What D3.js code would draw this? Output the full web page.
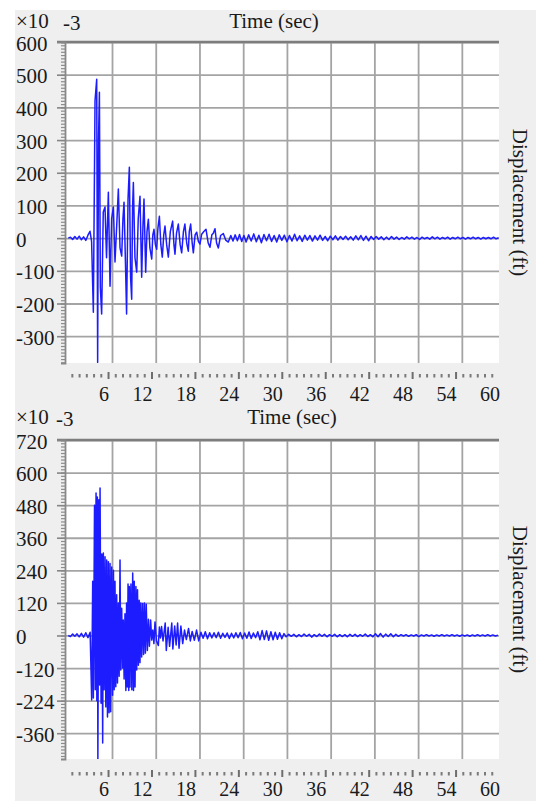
<!DOCTYPE html>
<html>
<head>
<meta charset="utf-8">
<script src="https://cdn.jsdelivr.net/npm/d3@7/dist/d3.min.js"></script>
<style>
  body { margin: 0; background: #fff; }
  svg text { font-family: "Liberation Serif", "Times New Roman", serif; fill: #1a1a1a; }
</style>
</head>
<body>
<svg id="chart" width="536" height="801" font-family="Liberation Serif, serif"></svg>
<script>
// ---- data ----
const xTickValues = [6, 12, 18, 24, 30, 36, 42, 48, 54, 60];

const topYTicks = [600, 500, 400, 300, 200, 100, 0, -100, -200, -300];
const topYLabels = ["600", "500", "400", "300", "200", "100", "0", "-100", "-200", "-300"];

const bottomYTicks = [720, 600, 480, 360, 240, 120, 0, -120, -240, -360];
const bottomYLabels = ["720", "600", "480", "360", "240", "120", "0", "-120", "-224", "-360"];

// [time (s), displacement (x10^-3 ft)]
const topTrace = [
  [0,0],[0.3,3],[0.6,-4],[0.9,5],[1.2,-3],[1.5,6],[1.8,-5],[2.1,4],[2.4,-7],[2.7,9],
  [2.98,21],[3.2,-10],[3.44,-227],[3.67,420],[3.9,486],[4.03,-380],[4.15,300],[4.27,446],[4.4,-150],[4.58,-232],
  [4.8,80],[5.04,95],[5.25,-60],[5.5,140],[5.73,-147],[5.95,60],[6.19,95],[6.41,-73],[6.65,40],[6.87,150],
  [7.1,-30],[7.33,-55],[7.5,60],[7.65,110],[7.85,-80],[8.0,-232],[8.2,120],[8.38,217],[8.55,-120],[8.7,-187],
  [8.82,90],[8.93,170],[9.15,-60],[9.39,-104],[9.6,60],[9.84,128],[10.07,-120],[10.25,40],[10.39,120],[10.62,-104],
  [10.8,20],[10.99,58],[11.2,-30],[11.45,-64],[11.6,10],[11.76,27],[11.95,-20],[12.13,-34],[12.3,30],[12.5,67],
  [12.7,-20],[12.9,-58],[13.1,10],[13.27,37],[13.5,-20],[13.73,-58],[14.0,20],[14.32,52],[14.5,-20],[14.64,-49],
  [14.85,15],[15.1,43],[15.35,-20],[15.56,-45],[15.8,20],[16.0,43],[16.25,-15],[16.47,-40],[16.6,20],[16.79,43],
  [17.0,-15],[17.16,-45],[17.4,10],[17.62,18],[17.85,-10],[18.07,-18],[18.3,12],[18.6,20],[18.9,27],[19.2,-15],
  [19.44,-28],[19.7,10],[19.9,15],[20.13,29],[20.35,-15],[20.59,-30],[20.9,8],[21.27,14],[21.6,-6],[21.96,-12],
  [22.3,8],[22.6,-9],[22.9,10],[23.2,-8],[23.5,11],[23.8,-10],[24.1,8],[24.4,-12],[24.75,10],[25.1,-9],
  [25.45,13],[25.8,-11],[26.15,9],[26.5,-14],[26.85,11],[27.2,-8],[27.55,12],[27.9,-10],[28.25,8],[28.6,-12],
  [28.95,10],[29.3,-7],[29.65,9],[30.0,-11],[30.35,8],[30.7,-9],[31.05,12],[31.4,-8],[31.75,7],[32.1,-10],
  [32.45,9],[32.8,-6],[33.15,8],[33.5,-9],[33.85,7],[34.2,-6],[34.55,9],[34.9,-7],[35.25,5],[35.6,-8],
  [35.95,6],[36.3,-5],[36.65,7],[37.0,-6],[37.35,5],[37.7,-4],[38.05,6],[38.4,-5],[38.75,4],[39.1,-6],
  [39.45,7],[39.8,-5],[40.15,8],[40.5,-7],[40.85,6],[41.2,-8],[41.55,5],[41.9,-4],[42.25,5],[42.6,-3],
  [42.95,4],[43.3,-5],[43.65,3],[44.0,-4],[44.35,5],[44.7,-3],[45.05,3],[45.4,-4],[45.75,2],[46.1,-3],
  [46.45,4],[46.8,-2],[47.15,3],[47.5,-3],[47.85,2],[48.2,-4],[48.55,3],[48.9,-2],[49.25,2],[49.6,-3],
  [49.95,4],[50.3,-2],[50.65,3],[51.0,-3],[51.35,2],[51.7,-2],[52.05,3],[52.4,-3],[52.75,2],[53.1,-2],
  [53.45,3],[53.8,-2],[54.15,2],[54.5,-3],[54.85,2],[55.2,-2],[55.55,3],[55.9,-2],[56.25,2],[56.6,-3],
  [56.95,2],[57.3,-2],[57.65,2],[58.0,-2],[58.35,3],[58.7,-2],[59.05,1]
];

const bottomTrace = [
  [0,0],[0.3,-4],[0.6,5],[0.9,-3],[1.2,6],[1.5,-5],[1.8,8],[2.1,-6],[2.4,10],[2.7,-8],
  [3.0,12],[3.21,-238],[3.35,200],[3.44,-230],[3.6,480],[3.7,-200],[3.81,525],[3.92,-240],[3.99,510],[4.06,-460],
  [4.2,500],[4.3,-182],[4.36,543],[4.5,-250],[4.6,300],[4.72,-396],[4.81,304],[4.92,-200],[5.04,290],[5.15,-263],
  [5.27,278],[5.38,-300],[5.5,272],[5.6,-285],[5.73,265],[5.82,-281],[5.96,252],[6.08,-220],[6.2,240],[6.3,-200],
  [6.41,200],[6.52,-189],[6.64,150],[6.75,-175],[6.87,120],[6.98,-150],[7.1,278],[7.2,-127],[7.33,100],[7.45,-120],
  [7.55,57],[7.66,-160],[7.78,80],[7.9,-203],[8.0,120],[8.1,-190],[8.2,190],[8.3,-203],[8.38,180],[8.47,-190],
  [8.6,190],[8.72,-200],[8.84,230],[8.95,-203],[9.05,200],[9.16,-190],[9.28,180],[9.39,-127],[9.5,168],[9.62,-110],
  [9.73,130],[9.84,-100],[9.95,120],[10.07,-79],[10.2,118],[10.33,-70],[10.45,120],[10.58,-65],[10.7,115],[10.85,-55],
  [11.0,60],[11.13,-40],[11.3,57],[11.45,-17],[11.6,20],[11.75,-30],[11.9,50],[12.1,-20],[12.36,-37],[12.5,31],
  [12.65,-9],[12.8,33],[13.0,-20],[13.3,46],[13.45,-55],[13.7,30],[13.9,-40],[14.2,46],[14.35,-50],[14.6,35],
  [14.8,-35],[15.0,46],[15.2,-47],[15.45,35],[15.7,-30],[15.95,20],[16.2,-15],[16.5,26],[16.75,-20],[17.0,15],
  [17.3,-18],[17.6,20],[17.9,-20],[18.2,12],[18.5,-10],[18.8,14],[19.1,-12],[19.4,10],[19.7,-9],[20.0,10],
  [20.3,-8],[20.6,12],[20.9,-10],[21.2,8],[21.5,-7],[21.8,9],[22.1,-11],[22.4,8],[22.7,-9],[23.0,10],
  [23.3,-8],[23.6,11],[23.9,-12],[24.2,9],[24.5,-10],[24.8,13],[25.1,-11],[25.4,9],[25.7,-8],[26.0,14],
  [26.3,-16],[26.6,18],[26.9,-15],[27.2,17],[27.5,-18],[27.8,14],[28.1,-16],[28.4,12],[28.7,-14],[29.0,10],
  [29.3,-12],[29.6,7],[29.9,-5],[30.25,4],[30.6,-3],[30.95,4],[31.3,-5],[31.65,3],[32.0,-4],[32.35,5],
  [32.7,-3],[33.05,4],[33.4,-6],[33.75,3],[34.1,-4],[34.45,5],[34.8,-3],[35.15,4],[35.5,-5],[35.85,3],
  [36.2,-3],[36.55,4],[36.9,-5],[37.25,3],[37.6,-4],[37.95,3],[38.3,-5],[38.65,4],[39.0,-3],[39.35,4],
  [39.7,-4],[40.05,3],[40.4,-3],[40.75,5],[41.1,-4],[41.45,3],[41.8,-5],[42.15,6],[42.5,-5],[42.85,7],
  [43.2,-6],[43.55,5],[43.9,-4],[44.25,6],[44.6,-5],[44.95,4],[45.3,-3],[45.65,3],[46.0,-2],[46.35,3],
  [46.7,-3],[47.05,2],[47.4,-2],[47.75,3],[48.1,-4],[48.45,2],[48.8,-2],[49.15,3],[49.5,-2],[49.85,2],
  [50.2,-3],[50.55,2],[50.9,-2],[51.25,3],[51.6,-2],[51.95,2],[52.3,-2],[52.65,3],[53.0,-2],[53.35,2],
  [53.7,-3],[54.05,2],[54.4,-2],[54.75,2],[55.1,-3],[55.45,2],[55.8,-2],[56.15,3],[56.5,-2],[56.85,2],
  [57.2,-2],[57.55,3],[57.9,-2],[58.25,2],[58.6,-2],[58.95,1]
];

// ---- layout ----
const LEFT = 65, RIGHT = 499;
const svg = d3.select("#chart");

svg.append("rect")
  .attr("x", 15).attr("y", 10)
  .attr("width", 521).attr("height", 791)
  .attr("fill", "#efefef");

// plot time scale and the (slightly different) scale of the tick strip below
const x = d3.scaleLinear().domain([-0.45, 59.1]).range([LEFT, RIGHT]);
const xb = d3.scaleLinear().domain([0, 60]).range([64.6, 499]);

function drawPanel(p) {
  const y = d3.scaleLinear().domain(p.yDomain).range([p.bottom, p.top]);
  const g = svg.append("g");

  // white plot area
  g.append("rect")
    .attr("x", LEFT).attr("y", p.top)
    .attr("width", RIGHT - LEFT).attr("height", p.bottom - p.top)
    .attr("fill", "#fff");

  // horizontal grid
  g.append("g")
    .attr("transform", `translate(${LEFT},0)`)
    .call(d3.axisLeft(y).tickValues(p.yTicks).tickSize(-(RIGHT - LEFT)).tickFormat(""))
    .call(s => s.select(".domain").remove())
    .selectAll("line").attr("stroke", "#a4a4a4").attr("stroke-width", 1.8);

  // vertical grid
  g.append("g")
    .attr("transform", `translate(0,${p.bottom})`)
    .call(d3.axisBottom(x).tickValues(xTickValues.filter(v => v < 59)).tickSize(-(p.bottom - p.top)).tickFormat(""))
    .call(s => s.select(".domain").remove())
    .selectAll("line").attr("stroke", "#a4a4a4").attr("stroke-width", 1.8);

  // trace
  g.append("clipPath").attr("id", p.id)
    .append("rect")
    .attr("x", LEFT).attr("y", p.top)
    .attr("width", RIGHT - LEFT).attr("height", p.bottom - p.top);

  g.append("path")
    .datum(p.trace)
    .attr("clip-path", `url(#${p.id})`)
    .attr("fill", "none")
    .attr("stroke", "#1c1cff")
    .attr("stroke-width", 1.5)
    .attr("stroke-linejoin", "round")
    .attr("d", d3.line().x(d => x(d[0])).y(d => y(d[1])));

  // top border
  g.append("line")
    .attr("x1", LEFT - 8).attr("x2", RIGHT)
    .attr("y1", p.top).attr("y2", p.top)
    .attr("stroke", "#7d7d7d").attr("stroke-width", 2.6);

  // left ruler axis: minor then major ticks
  const minorVals = d3.range(Math.ceil(p.yDomain[0] / p.minor) * p.minor, p.yDomain[1] + 1, p.minor);
  g.append("g")
    .attr("transform", `translate(${LEFT},0)`)
    .call(d3.axisLeft(y).tickValues(minorVals).tickSize(4).tickFormat(""))
    .call(s => s.select(".domain").attr("stroke", "#888").attr("stroke-width", 1.8))
    .selectAll("line").attr("stroke", "#8c8c8c").attr("stroke-width", 1.2);

  g.append("g")
    .attr("transform", `translate(${LEFT},0)`)
    .call(d3.axisLeft(y).tickValues(p.yTicks).tickSize(8).tickFormat(""))
    .call(s => s.select(".domain").remove())
    .selectAll("line").attr("stroke", "#858585").attr("stroke-width", 1.6);

  // y labels, left aligned
  g.selectAll(".ylab")
    .data(p.yTicks)
    .join("text")
    .attr("class", "ylab")
    .attr("x", 16)
    .attr("y", d => y(d) + 1.5)
    .attr("dominant-baseline", "central")
    .attr("font-size", 21)
    .text((d, i) => p.yLabels[i]);

  // tick strip under the plot
  g.append("g")
    .attr("transform", `translate(0,${p.band + 2})`)
    .call(d3.axisBottom(xb).tickValues(d3.range(1, 60).filter(v => v % 6 !== 0)).tickSize(3.5).tickFormat(""))
    .call(s => s.select(".domain").remove())
    .selectAll("line").attr("stroke", "#7a7a7a").attr("stroke-width", 2);

  g.append("g")
    .attr("transform", `translate(0,${p.band})`)
    .call(d3.axisBottom(xb).tickValues(xTickValues.filter(v => v < 60)).tickSize(7).tickFormat(""))
    .call(s => s.select(".domain").remove())
    .selectAll("line").attr("stroke", "#6e6e6e").attr("stroke-width", 2);

  g.selectAll(".xlab")
    .data(xTickValues)
    .join("text")
    .attr("class", "xlab")
    .attr("x", d => xb(d) + 1)
    .attr("y", p.labelBase)
    .attr("text-anchor", "end")
    .attr("font-size", p.labelSize)
    .text(d => d);

  // exponent note
  g.append("text").attr("x", 16).attr("y", p.expBase).attr("font-size", 21).text("\u00d710");
  g.append("text").attr("x", p.expX).attr("y", p.expBase + 2).attr("font-size", 21).text("-3");

  // axis titles
  g.append("text")
    .attr("x", p.titleX).attr("y", p.titleBase)
    .attr("text-anchor", "middle")
    .attr("font-size", 21)
    .text("Time (sec)");

  g.append("text")
    .attr("transform", `translate(513,${(p.top + p.bottom) / 2}) rotate(90)`)
    .attr("text-anchor", "middle")
    .attr("font-size", 21)
    .text("Displacement (ft)");
}

drawPanel({
  id: "clipTop", top: 42, bottom: 363, yDomain: [-382, 600],
  yTicks: topYTicks, yLabels: topYLabels, minor: 10, trace: topTrace,
  band: 372, labelBase: 401, labelSize: 20,
  expBase: 28, expX: 63, titleX: 274, titleBase: 28
});

drawPanel({
  id: "clipBottom", top: 440, bottom: 759, yDomain: [-455, 720],
  yTicks: bottomYTicks, yLabels: bottomYLabels, minor: 12, trace: bottomTrace,
  band: 770, labelBase: 796, labelSize: 20,
  expBase: 424, expX: 56, titleX: 292, titleBase: 424
});
</script>
</body>
</html>
